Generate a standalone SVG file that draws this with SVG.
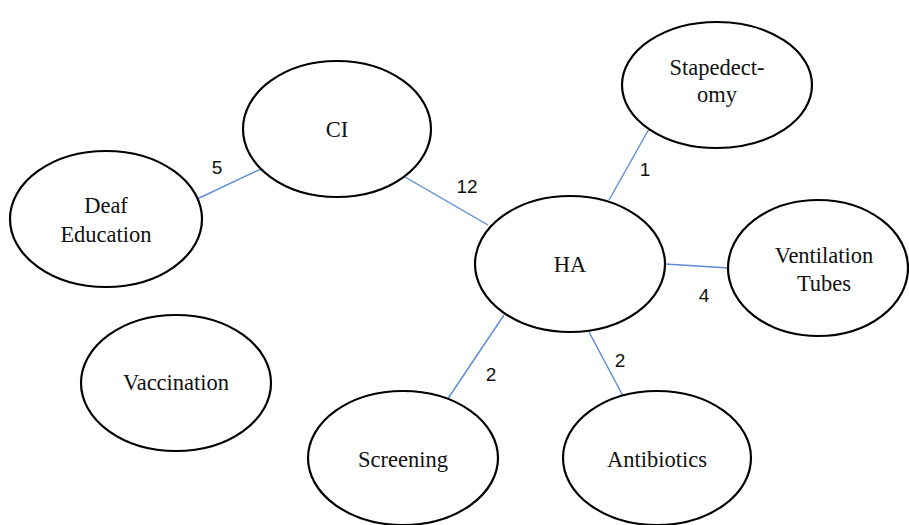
<svg xmlns="http://www.w3.org/2000/svg" width="909" height="525" viewBox="0 0 909 525">
<style>
.n ellipse{fill:#fff;stroke:#000;stroke-width:2.2}
.n text{font-family:"Liberation Serif","Times New Roman",serif;font-size:22.5px;fill:#111;text-anchor:middle}
.c line{stroke:#5b8bd9;stroke-width:1.4}
.c text{font-family:"Liberation Sans",Arial,sans-serif;font-size:19px;fill:#111;text-anchor:middle}
</style>
<rect width="909" height="525" fill="#fff"/>
<g class="c" id="connectors">
<line x1="197" y1="199" x2="261" y2="169"/>
<line x1="405" y1="177" x2="488" y2="225"/>
<line x1="649" y1="129" x2="609" y2="200"/>
<line x1="665" y1="264" x2="729" y2="268"/>
<line x1="504" y1="315" x2="447" y2="400"/>
<line x1="589" y1="332" x2="623" y2="396"/>
<text x="217" y="174">5</text>
<text x="467" y="193">12</text>
<text x="645" y="176">1</text>
<text x="704" y="302">4</text>
<text x="491" y="381">2</text>
<text x="620" y="367">2</text>
</g>
<g class="n" id="ci"><ellipse cx="337" cy="129" rx="94" ry="68"/><text x="337" y="137">CI</text></g>
<g class="n" id="deaf"><ellipse cx="106" cy="219" rx="96" ry="68"/><text x="106" y="213">Deaf</text><text x="106" y="242">Education</text></g>
<g class="n" id="stapedectomy"><ellipse cx="717" cy="85" rx="95" ry="63"/><text x="717" y="75">Stapedect-</text><text x="717" y="102">omy</text></g>
<g class="n" id="ha"><ellipse cx="570" cy="264" rx="95" ry="68"/><text x="570" y="272">HA</text></g>
<g class="n" id="ventilation"><ellipse cx="818" cy="268" rx="90" ry="68"/><text x="824" y="263">Ventilation</text><text x="824" y="291">Tubes</text></g>
<g class="n" id="vaccination"><ellipse cx="176" cy="383" rx="95" ry="68"/><text x="176" y="390">Vaccination</text></g>
<g class="n" id="screening"><ellipse cx="403" cy="458" rx="95" ry="67"/><text x="403" y="467">Screening</text></g>
<g class="n" id="antibiotics"><ellipse cx="657" cy="458" rx="94" ry="67"/><text x="657" y="467">Antibiotics</text></g>
</svg>
